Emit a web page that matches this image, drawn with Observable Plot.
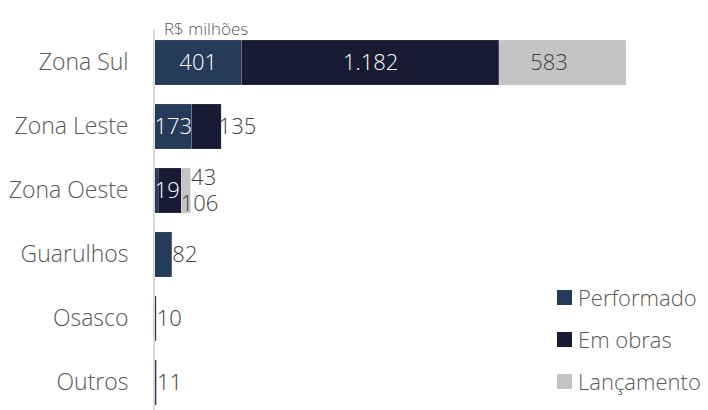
<!DOCTYPE html>
<html>
<head>
<meta charset="utf-8">
<script src="https://cdn.jsdelivr.net/npm/d3@7"></script>
<script src="https://cdn.jsdelivr.net/npm/@observablehq/plot@0.6"></script>
<style>
  html, body { margin: 0; padding: 0; background: #fff; }
  #wrap { position: relative; width: 708px; height: 410px; font-family: "Open Sans", sans-serif; font-weight: 300; }
  #unit { position: absolute; left: 164px; top: 20px; font-size: 17px; color: #595959; line-height: 1; }
  #legend { position: absolute; left: 557px; top: 276px; }
  .item { display: flex; align-items: center; height: 42px; font-size: 22px; color: #595959; }
  .sw { width: 15px; height: 15px; margin-right: 6px; }
</style>
</head>
<body>
<div id="wrap">
  <div id="chart"></div>
  <div id="unit">R$ milhões</div>
  <div id="legend"></div>
</div>
<script>
const categories = ["Zona Sul", "Zona Leste", "Zona Oeste", "Guarulhos", "Osasco", "Outros"];
const seriesNames = ["Performado", "Em obras", "Lançamento"];
const performado = [401, 173, 19, 82, 10, 11];
const emObras = [1182, 135, 106, 0, 0, 0];
const lancamento = [583, 0, 43, 0, 0, 0];
const colors = ["#253b59", "#181b33", "#c4c4c4"];

const seriesValues = [performado, emObras, lancamento];
const rows = [];
seriesValues.forEach((vals, si) => {
  vals.forEach((v, ci) => {
    rows.push({cat: categories[ci], series: seriesNames[si], value: v, si, ci});
  });
});
const totals = categories.map((c, i) => performado[i] + emObras[i] + lancamento[i]);
const fmt = d3.formatLocale({decimal: ",", thousands: ".", grouping: [3], currency: ["R$", ""]}).format(",d");

// label placement rules (style, not data)
const mode = (d) => {
  if (d.value === 0) return "none";
  if (d.ci === 0) return d.si === 2 ? "insideDark" : "inside";
  if (d.ci === 1 && d.si === 0) return "inside";
  if (d.ci === 1 && d.si === 1) return "endTight";
  if (d.ci === 2 && d.si === 0) return "oesteIn";
  if (d.ci === 2 && d.si === 1) return "endBelow";
  if (d.ci === 2 && d.si === 2) return "endAbove";
  return "end";
};
// stack over all rows, show text only for the selected placement
const lbl = (m) => ({x: "value", y: "cat", z: "series", text: d => mode(d) === m ? fmt(d.value) : ""});
const txt = {fontSize: 22, fontFamily: "Open Sans, sans-serif", fontWeight: 300};

const chart = Plot.plot({
  width: 708,
  height: 410,
  marginLeft: 154,
  marginRight: 82,
  marginTop: 38.5,
  marginBottom: 3.5,
  style: {fontFamily: "Open Sans, sans-serif", background: "#fff"},
  x: {domain: [0, d3.max(totals)], axis: null},
  y: {domain: categories, paddingInner: 0.3, paddingOuter: 0, label: null},
  color: {domain: seriesNames, range: colors},
  marks: [
    Plot.axisY({tickSize: 0, tickPadding: 26, fontSize: 23, fontWeight: 300, color: "#595959", label: null}),
    Plot.barX(rows, {x: "value", y: "cat", fill: "series", z: "series", stroke: "#ffffff", strokeWidth: 0.4, strokeOpacity: 0.3}),
    Plot.ruleX([0], {stroke: "#d9d9d9", strokeWidth: 2, dx: -0.5, insetTop: -9, insetBottom: -4}),
    Plot.text(rows, Plot.stackX({...lbl("inside"), fill: "#ffffff", ...txt})),
    Plot.text(rows, Plot.stackX({...lbl("insideDark"), fill: "#404040", dx: -14, ...txt})),
    Plot.text(rows, Plot.stackX2({...lbl("oesteIn"), fill: "#ffffff", textAnchor: "start", dx: -4, ...txt})),
    Plot.text(rows, Plot.stackX2({...lbl("end"), fill: "#404040", textAnchor: "start", dx: 0, ...txt})),
    Plot.text(rows, Plot.stackX2({...lbl("endTight"), fill: "#404040", textAnchor: "start", dx: -3, ...txt})),
    Plot.text(rows, Plot.stackX2({...lbl("endBelow"), fill: "#404040", textAnchor: "start", dx: -1, dy: 13, ...txt})),
    Plot.text(rows, Plot.stackX2({...lbl("endAbove"), fill: "#404040", textAnchor: "start", dx: 0, dy: -13, ...txt}))
  ]
});
document.getElementById("chart").appendChild(chart);

const legend = document.getElementById("legend");
seriesNames.forEach((s, i) => {
  const it = document.createElement("div");
  it.className = "item";
  const sw = document.createElement("span");
  sw.className = "sw";
  sw.style.background = colors[i];
  const lb = document.createElement("span");
  lb.textContent = s;
  it.appendChild(sw);
  it.appendChild(lb);
  legend.appendChild(it);
});
</script>
</body>
</html>
